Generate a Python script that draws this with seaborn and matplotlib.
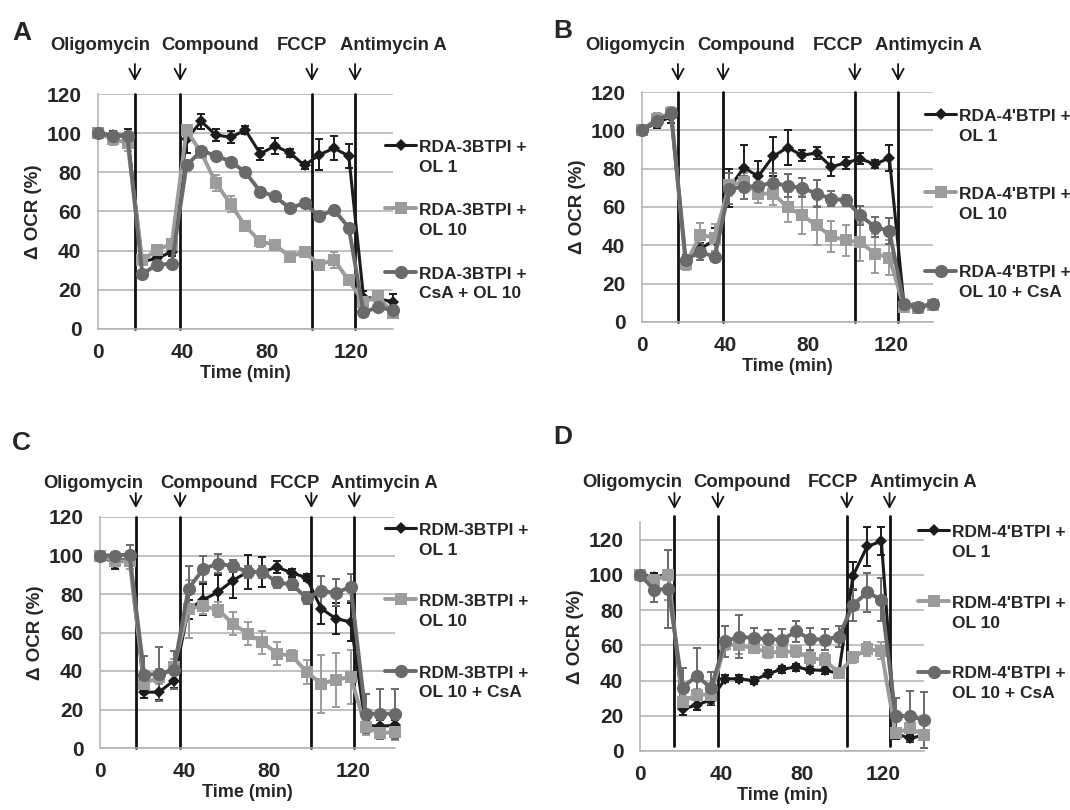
import matplotlib
matplotlib.use("Agg")
import matplotlib.pyplot as plt
import matplotlib.transforms as mtransforms
from matplotlib.lines import Line2D
from matplotlib.legend_handler import HandlerLine2D
import seaborn as sns

sns.set_style("white")
plt.rcParams["font.family"] = ["Liberation Sans", "DejaVu Sans"]
plt.rcParams["font.weight"] = "bold"

# sampling times (min)
time_min = [0, 7, 14, 21, 28, 35, 42, 49, 56, 63, 70, 77, 84, 91, 98, 105, 112, 119, 126, 133, 140]

event_names = ["Oligomycin", "Compound", "FCCP", "Antimycin A"]

# panel A
a_labels = ["RDA-3BTPI +\nOL 1", "RDA-3BTPI +\nOL 10", "RDA-3BTPI +\nCsA + OL 10"]
a_ol1 = [100, 99, 99, 34.5, 36, 39.5, 97, 106, 99, 98, 101.5, 89.5, 93.5, 90, 83.5, 89, 92.3, 88.4, 16.3, 15.3, 14]
a_ol10 = [100, 97, 95, 35, 40.5, 43.5, 101.5, 90, 74.5, 63.7, 52.4, 44.7, 43, 37, 39.3, 32.8, 35.4, 24.8, 13.6, 16.7, 8]
a_csa = [100, 98.5, 98.5, 28.2, 32.8, 33.3, 83.5, 91, 88.5, 85.5, 80, 70.2, 67.7, 61.7, 64.3, 57.5, 60.9, 51.8, 8.5, 11.2, 9.5]
a_ol1_err = [0, 2, 3, 2, 2, 2, 7, 4, 3, 3, 2, 3, 4, 2, 2, 8, 6, 6, 3, 2, 4]
a_ol10_err = [0, 3, 4, 2, 2, 2, 2, 2, 4, 4, 2, 3, 2, 2, 2, 2, 4, 2, 2, 2, 2]
a_csa_err = [0, 2, 2, 2, 2, 2, 2, 2, 2, 2, 2, 2, 2, 2, 2, 2, 2, 2, 2, 2, 2]
a_events = [17.5, 39, 101.5, 122]

# panel B
b_labels = ["RDA-4'BTPI +\nOL 1", "RDA-4'BTPI +\nOL 10", "RDA-4'BTPI +\nOL 10 + CsA"]
b_ol1 = [100, 104, 107, 32, 38, 43, 70, 80.5, 76, 86.4, 91, 87, 88.2, 81, 83, 85.2, 82.3, 85.6, 9.6, 8, 9]
b_ol10 = [100, 106, 109, 30, 45.5, 44, 71.5, 73, 67, 67, 60, 55.7, 50.4, 44.7, 42.6, 41.7, 35.7, 33.6, 7.8, 7.5, 8.7]
b_csa = [100, 105, 109, 32.5, 36.5, 34, 69.6, 70.4, 71, 72.7, 71, 70, 67, 64.3, 63.5, 55.7, 49.6, 47.5, 9.6, 8, 9.5]
b_ol1_err = [0, 3, 3, 3, 3, 6, 10, 12, 8, 10, 9, 3, 3, 5, 3, 3, 2, 7, 2, 1, 2]
b_ol10_err = [0, 3, 3, 3, 6, 7, 6, 5, 5, 6, 8, 10, 10, 8, 8, 10, 10, 9, 2, 1, 2]
b_csa_err = [0, 2, 2, 2, 4, 2, 8, 6, 5, 5, 6, 5, 7, 4, 3, 5, 5, 7, 2, 1, 2]
b_events = [17.3, 39, 102.4, 123.2]

# panel C
c_labels = ["RDM-3BTPI +\nOL 1", "RDM-3BTPI +\nOL 10", "RDM-3BTPI +\nOL 10 + CsA"]
c_ol1 = [100, 96, 99, 29, 29, 35, 72, 77, 81, 87, 91.4, 91.4, 94, 91, 88.5, 72.4, 67.2, 65.5, 11.8, 11.3, 11.8]
c_ol10 = [100, 97, 97, 33.4, 37, 42, 72.4, 73.6, 71.9, 64.6, 59.4, 55, 49, 48, 39.5, 33.4, 35.5, 36.9, 10.9, 7.8, 8.3]
c_csa = [100, 100, 100.5, 38, 38.5, 40.5, 82.8, 93, 95.8, 94.5, 91.5, 91.5, 86, 85, 78, 81.5, 80.7, 83.6, 17.8, 17.8, 17.8]
c_ol1_err = [0, 3, 3, 3, 4, 4, 5, 8, 9, 9, 9, 8, 3, 2, 2, 8, 8, 10, 3, 3, 3]
c_ol10_err = [0, 3, 4, 3, 4, 4, 15, 4, 4, 6, 6, 6, 6, 3, 6, 15, 14, 14, 4, 2, 4]
c_csa_err = [0, 2, 5, 10, 14, 10, 12, 7, 5, 3, 3, 3, 3, 3, 3, 8, 7, 7, 10, 13, 13]
c_events = [17, 38, 100.3, 120.7]

# panel D
d_labels = ["RDM-4'BTPI +\nOL 1", "RDM-4'BTPI +\nOL 10", "RDM-4'BTPI +\nOL 10 + CsA"]
d_ol1 = [100, 99, 100, 23.7, 26.2, 29, 41, 41, 40, 43.8, 46.5, 47.6, 46.1, 45.7, 44.2, 99.5, 116.2, 119, 10, 7.2, 9]
d_ol10 = [100, 97, 100, 28, 32, 32, 60.5, 60, 58.4, 56, 56.2, 56.5, 52.7, 51.8, 44.2, 53.1, 57.7, 57, 10, 12.9, 9.2]
d_csa = [100, 91.6, 92, 36, 42.7, 35.7, 62.2, 65, 64.1, 63.6, 63.2, 67.9, 63.6, 63.2, 65, 83, 90, 86, 19.9, 19.9, 17.6]
d_ol1_err = [0, 2, 3, 3, 3, 3, 2, 2, 2, 2, 2, 2, 2, 2, 2, 8, 11, 8, 3, 2, 2]
d_ol10_err = [0, 3, 14, 3, 3, 3, 3, 5, 3, 3, 3, 3, 4, 4, 3, 3, 4, 5, 2, 2, 2]
d_csa_err = [0, 7, 22, 11, 16, 9, 9, 12, 6, 5, 6, 6, 6, 6, 6, 9, 11, 12, 10, 14, 16]
d_events = [17, 38.4, 102, 123]

# one style per series (OL 1, OL 10, CsA)
colors = ["#1c1c1c", "#9c9c9c", "#6a6a6a"]
markers = ["D", "s", "o"]
marker_sizes = [6, 9, 9.5]
line_widths = [2.2, 2.8, 2.8]

W, H = 1070, 810

panels = [
    dict(letter="A", labels=a_labels, series=[a_ol1, a_ol10, a_csa], errs=[a_ol1_err, a_ol10_err, a_csa_err],
         events=a_events, ytop=120, box=(98, 94, 393, 329), letter_pos=(12, 33), header_y=45,
         arrow=(64, 81), header_x=[1, 53, 97, 140], legend_pos=(385, 140), spacing=1.64, vext=(0, 1)),
    dict(letter="B", labels=b_labels, series=[b_ol1, b_ol10, b_csa], errs=[b_ol1_err, b_ol10_err, b_csa_err],
         events=b_events, ytop=120, box=(642, 92, 933, 322), letter_pos=(553, 31), header_y=45,
         arrow=(64, 81), header_x=[-3.4, 50, 94.3, 138], legend_pos=(925, 109), spacing=2.5, vext=(0, 1)),
    dict(letter="C", labels=c_labels, series=[c_ol1, c_ol10, c_csa], errs=[c_ol1_err, c_ol10_err, c_csa_err],
         events=c_events, ytop=120, box=(100, 517, 395, 748), letter_pos=(12, 443), header_y=483,
         arrow=(493, 508), header_x=[-3.3, 51.7, 92.4, 135], legend_pos=(385, 523), spacing=2.1, vext=(0, 1)),
    dict(letter="D", labels=d_labels, series=[d_ol1, d_ol10, d_csa], errs=[d_ol1_err, d_ol10_err, d_csa_err],
         events=d_events, ytop=130, box=(640, 522, 924, 751), letter_pos=(553, 437), header_y=482,
         arrow=(493, 509), header_x=[-4, 50.4, 95.3, 139.8], legend_pos=(918, 525), spacing=2.07, vext=(0.02, 1.025)),
]


class FirstLineHandler(HandlerLine2D):
    # legend sample sits next to the first line of a two-line label
    def create_artists(self, legend, orig_handle, xdescent, ydescent, width, height, fontsize, trans):
        shift = mtransforms.Affine2D().translate(0, 0.7 * fontsize)
        return super().create_artists(legend, orig_handle, xdescent, ydescent, width, height,
                                      fontsize, shift + trans)


fig = plt.figure(figsize=(10.7, 8.1), dpi=100)
grid_gray = "#b0b0b0"

for p in panels:
    left, top, right, bottom = p["box"]
    ax = fig.add_axes([left / W, 1 - bottom / H, (right - left) / W, (bottom - top) / H])

    for vals, err, lab, c, m, ms, lw in zip(p["series"], p["errs"], p["labels"], colors, markers, marker_sizes, line_widths):
        ax.errorbar(time_min, vals, yerr=err, fmt="none", ecolor=c, elinewidth=1.4,
                    capsize=3, capthick=1.4, zorder=2, clip_on=False)
        sns.lineplot(x=time_min, y=vals, ax=ax, color=c, marker=m, markersize=ms, markeredgewidth=0,
                     linewidth=lw, label=lab, zorder=3, clip_on=False)

    for ev in p["events"]:
        ax.axvline(ev, ymin=p["vext"][0], ymax=p["vext"][1], color="#111111", lw=2, zorder=2.5, clip_on=False)

    ax.set_xlim(0, 140)
    ax.set_ylim(0, p["ytop"])
    ax.set_xticks([0, 40, 80, 120])
    ax.set_yticks([0, 20, 40, 60, 80, 100, 120])
    ax.yaxis.grid(True, color=grid_gray, lw=1.1)
    ax.xaxis.grid(False)
    ax.set_axisbelow(True)
    for side in ["top", "right"]:
        ax.spines[side].set_visible(False)
    for side in ["left", "bottom"]:
        ax.spines[side].set_color(grid_gray)
        ax.spines[side].set_linewidth(1.1)
    ax.tick_params(axis="both", length=5, width=1.1, color=grid_gray, labelsize=15)
    ax.tick_params(axis="y", pad=7)
    ax.tick_params(axis="x", pad=5)
    ax.set_xlabel("Time (min)", fontsize=13, fontweight="bold", labelpad=2)
    ax.set_ylabel("\u0394 OCR (%)", fontsize=13.5, fontweight="bold", labelpad=3)

    # treatment labels and arrows above the plot
    trans = mtransforms.blended_transform_factory(ax.transData, fig.transFigure)
    for hx, name in zip(p["header_x"], event_names):
        ax.text(hx, 1 - p["header_y"] / H, name, transform=trans, ha="center", va="center", fontsize=13.3)
    for ev in p["events"]:
        ax.annotate("", xy=(ev, 1 - p["arrow"][1] / H), xytext=(ev, 1 - p["arrow"][0] / H),
                    xycoords=trans, textcoords=trans, annotation_clip=False,
                    arrowprops=dict(arrowstyle="->,head_length=0.75,head_width=0.4", lw=1.3,
                                    color="#111111", shrinkA=0, shrinkB=0))

    handles, labels = ax.get_legend_handles_labels()
    leg = ax.legend(handles, labels, loc="upper left",
                    bbox_to_anchor=(p["legend_pos"][0] / W, 1 - p["legend_pos"][1] / H),
                    bbox_transform=fig.transFigure, frameon=False, borderpad=0, borderaxespad=0,
                    handlelength=1.8, handletextpad=0.15, labelspacing=p["spacing"], fontsize=12.5,
                    handler_map={Line2D: FirstLineHandler()})
    for t in leg.get_texts():
        t.set_linespacing(1.4)

    fig.text(p["letter_pos"][0] / W, 1 - p["letter_pos"][1] / H, p["letter"], fontsize=19,
             fontweight="bold", ha="left", va="center")

fig.savefig("out.png", dpi=100)
